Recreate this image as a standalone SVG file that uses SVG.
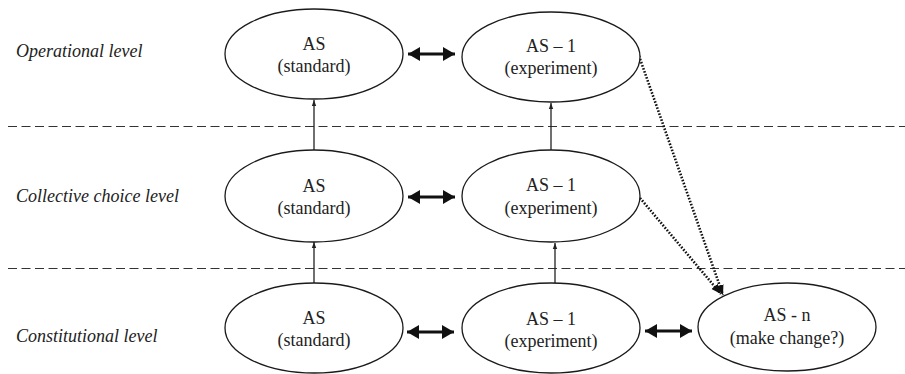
<svg xmlns="http://www.w3.org/2000/svg" width="905" height="374" viewBox="0 0 905 374">
<style>
  .node ellipse { fill: #fff; stroke: #1a1a1a; stroke-width: 1.3; }
  .node text { font-family: 'Liberation Serif', 'Times New Roman', serif; font-size: 18px; fill: #222; text-anchor: middle; }
  .lvl { font-family: 'Liberation Serif', 'Times New Roman', serif; font-size: 18px; font-style: italic; fill: #222; }
  .dash { stroke: #333; stroke-width: 1; stroke-dasharray: 9 4.5; fill: none; }
  .up { stroke: #222; stroke-width: 1.3; fill: none; marker-end: url(#small); }
  .dbl { stroke: #111; stroke-width: 3.2; fill: none; marker-start: url(#bigS); marker-end: url(#bigE); }
  .dot { stroke: #111; stroke-width: 2.6; stroke-dasharray: 1.6 1.6; fill: none; marker-end: url(#dotHead); }
</style>
<defs>
  <marker id="small" viewBox="0 0 6 6" refX="6" refY="3" markerWidth="6" markerHeight="6" markerUnits="userSpaceOnUse" orient="auto">
    <path d="M0,0.8 L6,3 L0,5.2 Z" fill="#222"/>
  </marker>
  <marker id="bigE" viewBox="0 0 12 14" refX="12" refY="7" markerWidth="12" markerHeight="14" markerUnits="userSpaceOnUse" orient="auto">
    <path d="M0,0 L12,7 L0,14 Z" fill="#111"/>
  </marker>
  <marker id="bigS" viewBox="0 0 12 14" refX="0" refY="7" markerWidth="12" markerHeight="14" markerUnits="userSpaceOnUse" orient="auto">
    <path d="M12,0 L0,7 L12,14 Z" fill="#111"/>
  </marker>
  <marker id="dotHead" viewBox="0 0 10 10" refX="10" refY="5" markerWidth="10" markerHeight="10" markerUnits="userSpaceOnUse" orient="auto">
    <path d="M0,1 L10,5 L0,9 Z" fill="#111"/>
  </marker>
</defs>

<g id="levels">
  <line class="dash" x1="8" y1="126.5" x2="905" y2="126.5"/>
  <line class="dash" x1="8" y1="268.5" x2="905" y2="268.5"/>
  <text class="lvl" x="16" y="57">Operational level</text>
  <text class="lvl" x="16" y="202">Collective choice level</text>
  <text class="lvl" x="16" y="342">Constitutional level</text>
</g>

<g id="connectors">
  <line class="up" x1="314" y1="150" x2="314" y2="100"/>
  <line class="up" x1="551" y1="150" x2="551" y2="103"/>
  <line class="up" x1="314" y1="283" x2="314" y2="242"/>
  <line class="up" x1="555" y1="283" x2="555" y2="243"/>
  <line class="dbl" x1="408" y1="54" x2="455" y2="54"/>
  <line class="dbl" x1="408" y1="197" x2="455" y2="197"/>
  <line class="dbl" x1="407" y1="332" x2="454" y2="332"/>
  <line class="dbl" x1="645" y1="331" x2="692" y2="331"/>
  <path class="dot" d="M639,56 L723,295"/>
  <path class="dot" d="M640,198 L721,294"/>
</g>

<g id="op-as" class="node">
  <ellipse cx="314" cy="54" rx="89" ry="45"/>
  <text x="314" y="50">AS</text>
  <text x="314" y="72">(standard)</text>
</g>
<g id="op-as1" class="node">
  <ellipse cx="551" cy="57" rx="89" ry="45"/>
  <text x="551" y="52">AS – 1</text>
  <text x="551" y="74">(experiment)</text>
</g>
<g id="cc-as" class="node">
  <ellipse cx="314" cy="196" rx="89" ry="46"/>
  <text x="314" y="192">AS</text>
  <text x="314" y="214">(standard)</text>
</g>
<g id="cc-as1" class="node">
  <ellipse cx="551" cy="196" rx="89" ry="46"/>
  <text x="551" y="191">AS – 1</text>
  <text x="551" y="214">(experiment)</text>
</g>
<g id="co-as" class="node">
  <ellipse cx="314" cy="328" rx="89" ry="45"/>
  <text x="314" y="324">AS</text>
  <text x="314" y="346">(standard)</text>
</g>
<g id="co-as1" class="node">
  <ellipse cx="551" cy="328" rx="89" ry="45"/>
  <text x="551" y="325">AS – 1</text>
  <text x="551" y="347">(experiment)</text>
</g>
<g id="co-asn" class="node">
  <ellipse cx="787" cy="327" rx="89" ry="44"/>
  <text x="787" y="321">AS - n</text>
  <text x="787" y="344">(make change?)</text>
</g>
</svg>
